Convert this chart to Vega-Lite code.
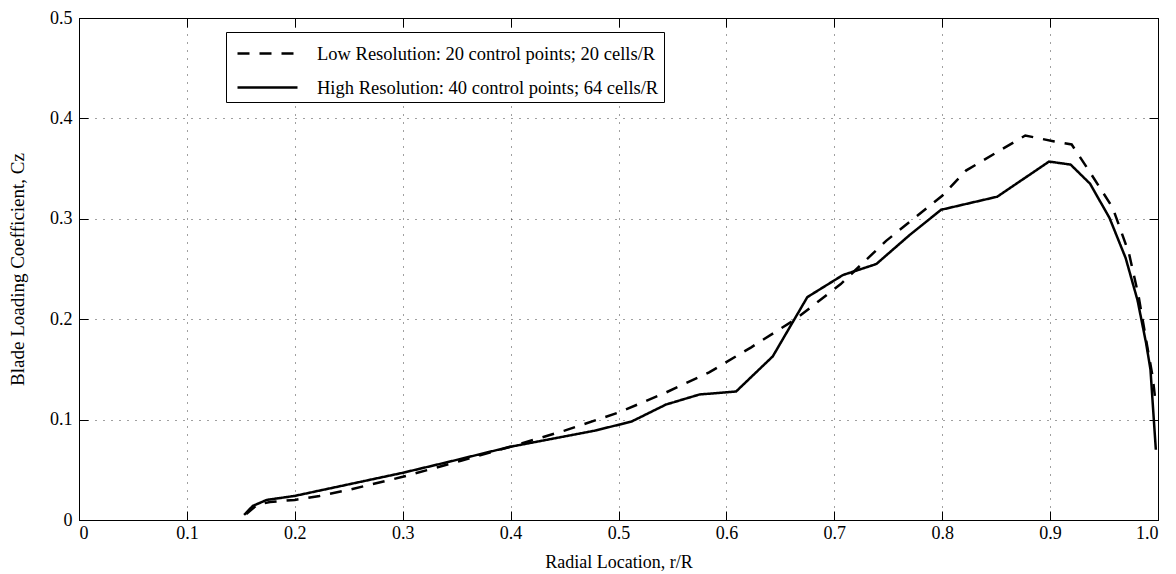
{
  "$schema": "https://vega.github.io/schema/vega-lite/v6.json",
  "autosize": "none",
  "width": 1079,
  "height": 502,
  "padding": {"left": 79, "top": 18, "right": 18, "bottom": 54},
  "background": "white",
  "config": {
    "font": "Liberation Serif",
    "view": {"stroke": "black", "strokeWidth": 1},
    "axis": {
      "labelFont": "Liberation Serif",
      "titleFont": "Liberation Serif",
      "labelFontSize": 18,
      "titleFontSize": 18,
      "titleFontWeight": "normal",
      "labelColor": "black",
      "titleColor": "black",
      "domainColor": "black",
      "tickColor": "black",
      "gridColor": "black",
      "gridOpacity": 0.75,
      "gridDash": [1, 7],
      "gridWidth": 1
    },
    "legend": {
      "labelFont": "Liberation Serif",
      "labelFontSize": 18,
      "labelColor": "black"
    }
  },
  "data": {
    "values": [
      {"series": "Low Resolution: 20 control points; 20 cells/R", "r": 0.155, "cz": 0.006},
      {"series": "Low Resolution: 20 control points; 20 cells/R", "r": 0.165, "cz": 0.015},
      {"series": "Low Resolution: 20 control points; 20 cells/R", "r": 0.177, "cz": 0.018},
      {"series": "Low Resolution: 20 control points; 20 cells/R", "r": 0.2, "cz": 0.02},
      {"series": "Low Resolution: 20 control points; 20 cells/R", "r": 0.223, "cz": 0.024},
      {"series": "Low Resolution: 20 control points; 20 cells/R", "r": 0.25, "cz": 0.03},
      {"series": "Low Resolution: 20 control points; 20 cells/R", "r": 0.3, "cz": 0.043},
      {"series": "Low Resolution: 20 control points; 20 cells/R", "r": 0.354, "cz": 0.059},
      {"series": "Low Resolution: 20 control points; 20 cells/R", "r": 0.4, "cz": 0.073},
      {"series": "Low Resolution: 20 control points; 20 cells/R", "r": 0.45, "cz": 0.089},
      {"series": "Low Resolution: 20 control points; 20 cells/R", "r": 0.5, "cz": 0.107},
      {"series": "Low Resolution: 20 control points; 20 cells/R", "r": 0.544, "cz": 0.127},
      {"series": "Low Resolution: 20 control points; 20 cells/R", "r": 0.584, "cz": 0.147},
      {"series": "Low Resolution: 20 control points; 20 cells/R", "r": 0.623, "cz": 0.172},
      {"series": "Low Resolution: 20 control points; 20 cells/R", "r": 0.664, "cz": 0.2},
      {"series": "Low Resolution: 20 control points; 20 cells/R", "r": 0.706, "cz": 0.235},
      {"series": "Low Resolution: 20 control points; 20 cells/R", "r": 0.748, "cz": 0.278},
      {"series": "Low Resolution: 20 control points; 20 cells/R", "r": 0.8, "cz": 0.323},
      {"series": "Low Resolution: 20 control points; 20 cells/R", "r": 0.822, "cz": 0.348},
      {"series": "Low Resolution: 20 control points; 20 cells/R", "r": 0.877, "cz": 0.383},
      {"series": "Low Resolution: 20 control points; 20 cells/R", "r": 0.904, "cz": 0.377},
      {"series": "Low Resolution: 20 control points; 20 cells/R", "r": 0.92, "cz": 0.374},
      {"series": "Low Resolution: 20 control points; 20 cells/R", "r": 0.936, "cz": 0.348},
      {"series": "Low Resolution: 20 control points; 20 cells/R", "r": 0.958, "cz": 0.311},
      {"series": "Low Resolution: 20 control points; 20 cells/R", "r": 0.973, "cz": 0.266},
      {"series": "Low Resolution: 20 control points; 20 cells/R", "r": 0.982, "cz": 0.223},
      {"series": "Low Resolution: 20 control points; 20 cells/R", "r": 0.99, "cz": 0.173},
      {"series": "Low Resolution: 20 control points; 20 cells/R", "r": 0.995, "cz": 0.143},
      {"series": "Low Resolution: 20 control points; 20 cells/R", "r": 0.998, "cz": 0.115},
      {"series": "High Resolution: 40 control points; 64 cells/R", "r": 0.153, "cz": 0.005},
      {"series": "High Resolution: 40 control points; 64 cells/R", "r": 0.161, "cz": 0.014},
      {"series": "High Resolution: 40 control points; 64 cells/R", "r": 0.174, "cz": 0.02},
      {"series": "High Resolution: 40 control points; 64 cells/R", "r": 0.2, "cz": 0.024},
      {"series": "High Resolution: 40 control points; 64 cells/R", "r": 0.226, "cz": 0.03},
      {"series": "High Resolution: 40 control points; 64 cells/R", "r": 0.3, "cz": 0.047},
      {"series": "High Resolution: 40 control points; 64 cells/R", "r": 0.343, "cz": 0.058},
      {"series": "High Resolution: 40 control points; 64 cells/R", "r": 0.4, "cz": 0.073},
      {"series": "High Resolution: 40 control points; 64 cells/R", "r": 0.478, "cz": 0.089},
      {"series": "High Resolution: 40 control points; 64 cells/R", "r": 0.512, "cz": 0.098},
      {"series": "High Resolution: 40 control points; 64 cells/R", "r": 0.544, "cz": 0.115},
      {"series": "High Resolution: 40 control points; 64 cells/R", "r": 0.575, "cz": 0.125},
      {"series": "High Resolution: 40 control points; 64 cells/R", "r": 0.609, "cz": 0.128},
      {"series": "High Resolution: 40 control points; 64 cells/R", "r": 0.643, "cz": 0.163},
      {"series": "High Resolution: 40 control points; 64 cells/R", "r": 0.675, "cz": 0.222},
      {"series": "High Resolution: 40 control points; 64 cells/R", "r": 0.708, "cz": 0.244},
      {"series": "High Resolution: 40 control points; 64 cells/R", "r": 0.739, "cz": 0.255},
      {"series": "High Resolution: 40 control points; 64 cells/R", "r": 0.77, "cz": 0.284},
      {"series": "High Resolution: 40 control points; 64 cells/R", "r": 0.799, "cz": 0.309},
      {"series": "High Resolution: 40 control points; 64 cells/R", "r": 0.851, "cz": 0.322},
      {"series": "High Resolution: 40 control points; 64 cells/R", "r": 0.899, "cz": 0.357},
      {"series": "High Resolution: 40 control points; 64 cells/R", "r": 0.919, "cz": 0.354},
      {"series": "High Resolution: 40 control points; 64 cells/R", "r": 0.937, "cz": 0.335},
      {"series": "High Resolution: 40 control points; 64 cells/R", "r": 0.955, "cz": 0.301},
      {"series": "High Resolution: 40 control points; 64 cells/R", "r": 0.97, "cz": 0.261},
      {"series": "High Resolution: 40 control points; 64 cells/R", "r": 0.981, "cz": 0.219},
      {"series": "High Resolution: 40 control points; 64 cells/R", "r": 0.989, "cz": 0.176},
      {"series": "High Resolution: 40 control points; 64 cells/R", "r": 0.993, "cz": 0.15},
      {"series": "High Resolution: 40 control points; 64 cells/R", "r": 0.998, "cz": 0.07}
    ]
  },
  "layer": [
    {
      "mark": {"type": "line", "color": "black", "strokeWidth": 2.5, "clip": true},
      "encoding": {
        "x": {
          "field": "r", "type": "quantitative",
          "scale": {"domain": [0, 1], "nice": false, "zero": false},
          "axis": {
            "title": "Radial Location, r/R",
            "values": [0, 0.1, 0.2, 0.3, 0.4, 0.5, 0.6, 0.7, 0.8, 0.9, 1],
            "labelExpr": "datum.value == 1 ? '1.0' : (datum.value == 0 ? '0' : format(datum.value, '.1f'))",
            "labelFont": "Liberation Serif",
            "titleFont": "Liberation Serif",
            "labelFontSize": 18,
            "titleFontSize": 18,
            "tickSize": -9,
            "labelPadding": 13,
            "titlePadding": 11,
            "grid": true
          }
        },
        "y": {
          "field": "cz", "type": "quantitative",
          "scale": {"domain": [0, 0.5], "nice": false, "zero": false},
          "axis": {
            "title": "Blade Loading Coefficient, Cz",
            "values": [0, 0.1, 0.2, 0.3, 0.4, 0.5],
            "labelExpr": "datum.value == 0 ? '0' : format(datum.value, '.1f')",
            "labelFont": "Liberation Serif",
            "titleFont": "Liberation Serif",
            "labelFontSize": 18,
            "titleFontSize": 19,
            "tickSize": -9,
            "labelPadding": 16,
            "titlePadding": 22,
            "grid": true
          }
        },
        "strokeDash": {
          "field": "series", "type": "nominal",
          "scale": {
            "domain": ["Low Resolution: 20 control points; 20 cells/R", "High Resolution: 40 control points; 64 cells/R"],
            "range": [[12, 10], [1, 0]]
          },
          "legend": {
            "title": null,
            "orient": "none",
            "legendX": 147,
            "legendY": 14,
            "symbolType": "M-2,0H2",
            "symbolSize": 900,
            "symbolOffset": 20,
            "symbolStrokeWidth": 2.5,
            "symbolStrokeColor": "black",
            "symbolFillColor": "transparent",
            "strokeColor": "black",
            "fillColor": "white",
            "padding": 5,
            "labelOffset": 33,
            "labelLimit": 0,
            "labelExpr": "datum.label + ' \u2003'",
            "labelFont": "Liberation Serif",
            "labelFontSize": 18.5,
            "rowPadding": 8
          }
        }
      }
    },
    {
      "mark": {"type": "line", "strokeOpacity": 0},
      "encoding": {
        "x": {
          "field": "r", "type": "quantitative",
          "scale": {"domain": [0, 1], "nice": false, "zero": false},
          "axis": {"orient": "top", "title": null, "labels": false, "grid": false, "tickSize": -9, "values": [0, 0.1, 0.2, 0.3, 0.4, 0.5, 0.6, 0.7, 0.8, 0.9, 1]}
        },
        "y": {
          "field": "cz", "type": "quantitative",
          "scale": {"domain": [0, 0.5], "nice": false, "zero": false},
          "axis": {"orient": "right", "title": null, "labels": false, "grid": false, "tickSize": -9, "values": [0, 0.1, 0.2, 0.3, 0.4, 0.5]}
        },
        "detail": {"field": "series", "type": "nominal"}
      }
    }
  ],
  "resolve": {"axis": {"x": "independent", "y": "independent"}}
}
